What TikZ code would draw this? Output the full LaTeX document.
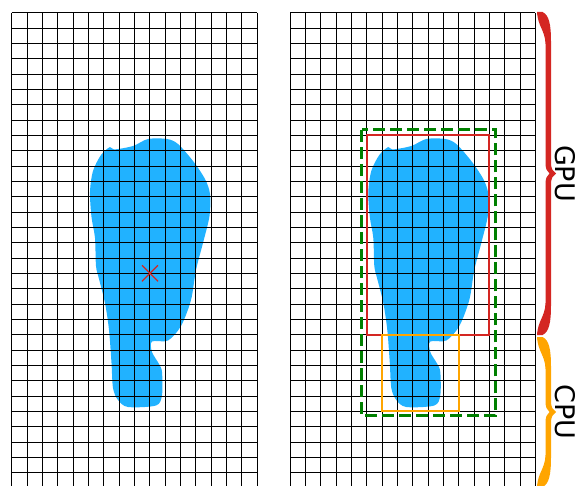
\documentclass[tikz,border=0pt]{standalone}
\usepackage{fontspec}
\newfontfamily\labelfont{DejaVu Sans}
\definecolor{blobblue}{RGB}{33,178,255}
\definecolor{myred}{RGB}{212,38,34}
\definecolor{myorange}{RGB}{255,165,0}
\definecolor{mygreen}{RGB}{0,128,0}
\tikzset{
  gridline/.style={line width=0.9pt, black},
  blobfill/.style={fill=blobblue, draw=none},
  redbox/.style={draw=myred, line width=2pt},
  orangebox/.style={draw=myorange, line width=2pt},
  greenbox/.style={draw=mygreen, line width=3pt, dash pattern=on 12pt off 5pt},
  bracelabel/.style={font=\labelfont\fontsize{27}{32}\selectfont, rotate=-90, inner sep=0pt, anchor=center},
}
\newcommand{\blobpath}{plot[smooth cycle, tension=0.5] coordinates {
 (110,147) (114,149.5) (133,146) (148,139) (167,139) (178,144) (193,161) (205,179) (210,194) (209.5,216) (203,243) (196,270) (191,300) (181,326) (168,340.5) (152,341.5) (152,352) (159,364) (162,372) (162,395) (156,405.5) (128,407) (118,400) (113,388) (111.5,363) (109,330) (105,303) (99,279) (96,266) (95,238) (91.5,217) (90,192) (93,171) (101,155)
}}
\newcommand{\mybrace}[3]{%
 \pgfmathsetmacro{\ym}{(#1+#2)/2}%
 \fill[#3] (537,#1) -- (542.5,#1) .. controls (549,#1+3) and (551,#1+12) .. (551,#1+30)
   -- (551,\ym-10) .. controls (551,\ym-5) and (553,\ym-2) .. (556,\ym)
   .. controls (553,\ym+2) and (551,\ym+5) .. (551,\ym+10)
   -- (551,#2-30) .. controls (551,#2-12) and (549,#2-3) .. (542.5,#2)
   -- (537,#2) .. controls (538,#2-15) and (545,#2-18) .. (545.5,#2-32)
   -- (545.5,\ym+10) .. controls (545.5,\ym+5) and (547,\ym+2) .. (549.5,\ym)
   .. controls (547,\ym-2) and (545.5,\ym-5) .. (545.5,\ym-10)
   -- (545.5,#1+32) .. controls (545,#1+18) and (538,#1+15) .. (537,#1) -- cycle;
}
\begin{document}
\begin{tikzpicture}[x=1pt,y=-1pt]
\useasboundingbox (0,0) rectangle (575,486);
\clip (0,0) rectangle (575,486);
% blobs
\fill[blobfill] \blobpath;
\begin{scope}[shift={(278.3,0)}]
\fill[blobfill] \blobpath;
\end{scope}
% grids
\foreach \gx in {11.7,290}{
  \foreach \i in {0,...,16} \draw[gridline] ({\gx+\i*15.333},12.7) -- ({\gx+\i*15.333},490);
  \foreach \j in {0,...,31} \draw[gridline] (\gx,{12.7+\j*15.333}) -- ({\gx+245.33},{12.7+\j*15.333});
}
% centre mark
\coordinate (c) at (150,273.3);
\draw[myred, line width=1.3pt] ([shift={(-8,-8)}]c) -- ([shift={(8,8)}]c);
\draw[myred, line width=1.3pt] ([shift={(-8,8)}]c) -- ([shift={(8,-8)}]c);
% boxes
\draw[greenbox] (361.7,130) rectangle (495.7,415.7);
\draw[redbox] (366.7,135.3) rectangle (489.3,334.7);
\draw[orangebox] (382,334.7) rectangle (458.7,411.3);
% braces
\mybrace{12}{335}{myred}
\mybrace{337}{487}{myorange}
\node[bracelabel] (gpu) at (565,173.5) {GPU};
\node[bracelabel] (cpu) at (565,412) {CPU};
\end{tikzpicture}
\end{document}
